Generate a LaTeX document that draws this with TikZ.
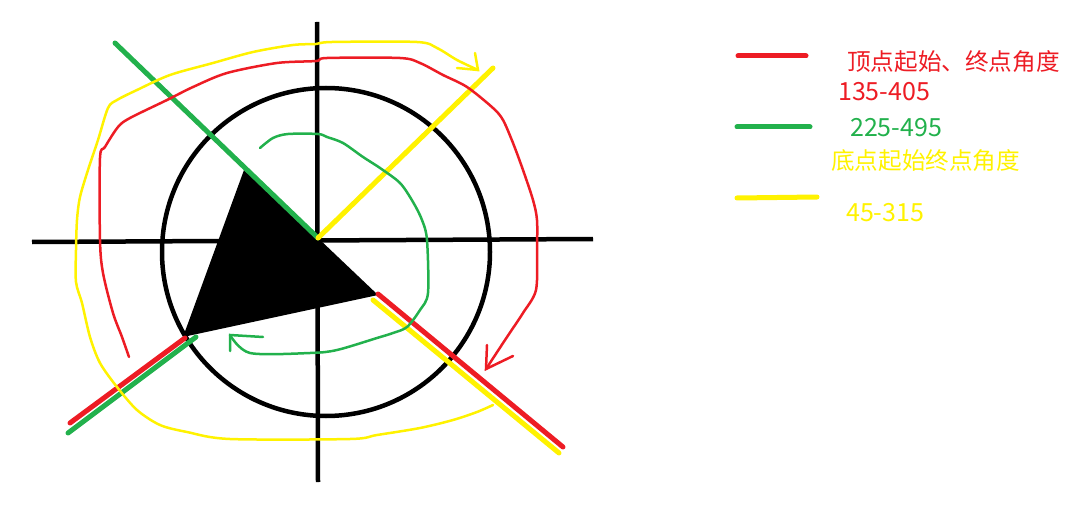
\documentclass[tikz,border=0pt]{standalone}
\usepackage{fontspec}
\newfontfamily\cjk{Noto Sans CJK SC}
\usepackage{tikz}
\usetikzlibrary{positioning}
\definecolor{pRed}{RGB}{237,28,36}
\definecolor{pGreen}{RGB}{34,177,76}
\definecolor{pYellow}{RGB}{255,242,0}
\tikzset{
  axisline/.style={black, line width=4.5pt},
  rayline/.style={line width=5pt, line cap=round},
  loopline/.style={line width=2.5pt, line join=round, line cap=round},
  tipline/.style={line width=2.5pt, line join=miter, line cap=round},
  legendtext/.style={anchor=base west, inner sep=0pt, font=\cjk\fontsize{23.6}{26}\selectfont},
  legendval/.style={anchor=base west, inner sep=0pt, font=\cjk\fontsize{25}{28}\selectfont}
}

\begin{document}
\begin{tikzpicture}[x=1pt, y=-1pt]
\useasboundingbox (0,0) rectangle (1082,532);
\coordinate (O) at (318,238);

% axes and circle
\draw[axisline] (32,242) -- (593,239);
\draw[axisline] (317,22) -- (318,482);
\draw[black, line width=4.5pt] (326,252) circle[radius=164pt];

% the filled triangle
\fill[black] (244,170) -- (O) -- (378,295) -- (183,337) -- cycle;

% rays
\draw[rayline, pGreen] (115,43) -- (O);
\draw[rayline, pYellow] (O) -- (493,68);
\draw[rayline, pRed] (378,294) -- (563,447);
\draw[rayline, pYellow] (373,300) -- (559,453);
\draw[rayline, pRed] (70,423) -- (185,338);
\draw[rayline, pGreen] (68,433) -- (196,337);

% red loop
\draw[loopline, pRed] plot[smooth, tension=0.5] coordinates {
  (129,357) (122,337) (113,313) (103,273) (100,240) (100,158) (105,147)
  (118,127) (130,118) (167,100) (193,87) (227,73) (277,63) (316,61)
  (327,58) (400,58) (420,63) (443,75) (467,87) (493,108) (503,120)
  (513,143) (523,170) (533,200) (537,220) (537,250) (536,290) (523,313)
  (507,337) (486,369)};
\draw[tipline, pRed] (487,345) -- (486,369) -- (513,356);

% yellow loop
\draw[loopline, pYellow] plot[smooth, tension=0.5] coordinates {
  (493,405) (477,412) (453,420) (420,428) (377,435) (350,439) (230,439)
  (187,432) (160,425) (137,410) (117,387) (100,363) (90,337) (82,303)
  (76,282) (76,250) (77,220) (80,197) (88,170) (98,140) (108,108)
  (117,100) (137,90) (170,75) (213,63) (253,52) (293,45) (316,44)
  (332,42) (417,42) (437,48) (457,60) (478,70)};
\draw[tipline, pYellow] (457,68) -- (478,70) -- (475,53);

% green loop
\draw[loopline, pGreen] plot[smooth, tension=0.5] coordinates {
  (260,148) (273,138) (288,134) (318,134) (327,137) (343,143) (363,157)
  (380,168) (400,183) (413,202) (422,220) (427,240) (428,293) (420,310)
  (407,327) (393,333) (377,338) (337,350) (310,353) (250,353) (230,335)};
\draw[tipline, pGreen] (263,337) -- (230,335) -- (230,351);

% legend
\draw[rayline, pRed] (738,56) -- (806,56);
\draw[rayline, pGreen] (737,127) -- (810,127);
\draw[rayline, pYellow] (737,198) -- (817,197);
\node[legendtext, text=pRed] (topname) at (847,71) {顶点起始、终点角度};
\node[legendval, text=pRed] (topval) at (838,101) {135-405};
\node[legendval, text=pGreen] (greenval) at (850,137) {225-495};
\node[legendtext, text=pYellow] (bottomname) at (831,170) {底点起始终点角度};
\node[legendval, text=pYellow] (bottomval) at (846,222) {45-315};
\end{tikzpicture}
\end{document}
